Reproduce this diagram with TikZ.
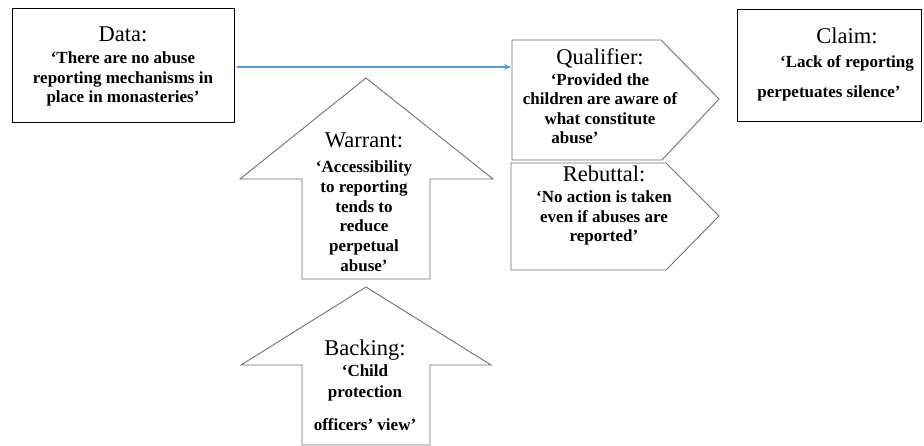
\documentclass[tikz,border=0pt]{standalone}
\usepackage{fontspec}
\setmainfont{Liberation Serif}
\usetikzlibrary{arrows.meta, positioning}
\usepackage{xcolor}
\definecolor{cLine}{HTML}{5B9BD5}
\definecolor{cEdge}{HTML}{707070}
\newcommand{\hd}[1]{{\fontsize{22.5}{22}\mdseries\selectfont #1}}
\tikzset{
  plainbox/.style={
    draw=black, line width=0.9pt, fill=white,
    minimum width=#1, minimum height=114, inner sep=0pt,
  },
  outline/.style={draw=cEdge, line width=0.9pt, line join=miter, fill=white},
  txt/.style={
    align=center, inner sep=0pt, anchor=base,
    font=\fontsize{17}{19.5}\bfseries\selectfont,
  },
  arw/.style={-{Stealth[length=7pt, width=6pt]}, line width=1.3pt, color=#1},
  arw/.default=cLine,
}

\begin{document}
\begin{tikzpicture}[x=1pt, y=-1pt]
  \useasboundingbox (0,0) rectangle (924,446);

  % Boxes
  \node[plainbox=222] (data) at (123,65) {};
  \node[plainbox=184, minimum height=112] (claim) at (829.5,65) {};

  % Qualifier and rebuttal
  \draw[outline] (512,40) -- (661,40) -- (719,99) -- (662,160) -- (512,160) -- cycle;
  \draw[outline] (511,163) -- (666,163) -- (719,216) -- (666,270) -- (511,270) -- cycle;
  \coordinate (qual) at (511,67);

  % Warrant and backing
  \draw[outline] (366,78) -- (493,179) -- (430,179) -- (430,279)
    -- (302,279) -- (302,179) -- (240,179) -- cycle;
  \draw[outline] (366,287) -- (491,365) -- (430,365) -- (430,445)
    -- (302,445) -- (302,365) -- (241,365) -- cycle;

  % Texts (anchored at the baseline of their last line)
  \node[txt] (datatxt) at (123,103) {\hd{Data:}\\[3pt]
    ‘There are no abuse\\ reporting mechanisms in\\ place in monasteries’};
  \node[txt] (claimtxt) at (829,98) {\hspace*{36pt}\hd{Claim:}\\[4pt]
    \hspace*{36pt}‘Lack of reporting\\[11pt] perpetuates silence’};
  \node[txt] (qualtxt) at (600,144) {\hd{Qualifier:}\\[1pt]
    ‘Provided the\\ children are aware of\\ what constitute\\
    abuse’\hspace*{50pt}};
  \node[txt] (rebtxt) at (604,242) {\hd{Rebuttal:}\\[2pt]
    ‘No action is taken\\ even if abuses are\\ reported’};
  \node[txt] (wartxt) at (364,272) {\hd{Warrant:}\\[5pt]
    ‘Accessibility\\[1pt] to reporting\\ tends to\\ reduce\\ perpetual\\[1pt] abuse’};
  \node[txt] (backtxt) at (365,430) {\hd{Backing:}\\[1pt]
    ‘Child\\[2pt] protection\\[13pt] officers’ view’};

  % Arrow
  \draw[arw, shorten <=3pt] (data.east |- qual) -- (qual);

\end{tikzpicture}
\end{document}
